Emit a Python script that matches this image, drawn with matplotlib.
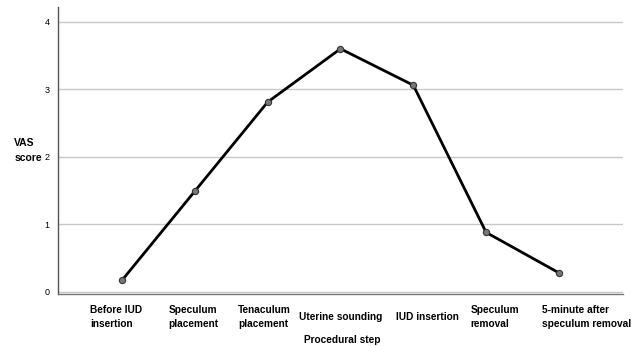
import matplotlib
matplotlib.use("Agg")
import matplotlib.pyplot as plt
import matplotlib.transforms as mtransforms

plt.rcParams["font.family"] = ["Liberation Sans", "DejaVu Sans"]

# Data
steps = ["Before IUD\ninsertion", "Speculum\nplacement", "Tenaculum\nplacement",
         "Uterine sounding", "IUD insertion", "Speculum\nremoval",
         "5-minute after\nspeculum removal"]
vas_score = [0.17, 1.49, 2.81, 3.60, 3.06, 0.88, 0.28]
y_ticks = [0, 1, 2, 3, 4]

# horizontal nudges of the tick labels (pixels), as laid out in the original
label_shift_px = [-6, -1, -3, 0, 14, 9, 28]

fig = plt.figure(figsize=(6.43, 3.46), dpi=100)
ax = fig.add_axes([0.090, 0.150, 0.879, 0.830])

x = list(range(len(steps)))
ax.plot(x, vas_score, color="black", linewidth=2.0, zorder=3,
        marker="o", markersize=4.5, markerfacecolor="#777777",
        markeredgecolor="#333333", markeredgewidth=0.8)

ax.set_xlim(-0.88, 6.88)
ax.set_ylim(-0.034, 4.22)
ax.set_yticks(y_ticks)
ax.set_yticklabels([str(t) for t in y_ticks], fontsize=6.5)
ax.yaxis.grid(True, color="#c8c8c8", linewidth=1.0)
ax.set_axisbelow(True)

ax.set_xticks(x)
ax.set_xticklabels(steps, fontsize=7.3, fontweight="bold", multialignment="left",
                   va="center", linespacing=1.45)
ax.tick_params(axis="x", length=0, pad=16.5)
ax.tick_params(axis="y", length=0, pad=6)
for lbl, dx in zip(ax.get_xticklabels(), label_shift_px):
    lbl.set_transform(lbl.get_transform() +
                      mtransforms.ScaledTranslation(dx / 100, 0, fig.dpi_scale_trans))

for s in ["top", "right"]:
    ax.spines[s].set_visible(False)
ax.spines["left"].set_color("#555555")
ax.spines["bottom"].set_color("#777777")
ax.spines["left"].set_linewidth(1.0)
ax.spines["bottom"].set_linewidth(1.0)

fig.text(0.532, 0.017, "Procedural step", fontsize=7.3, fontweight="bold",
         ha="center", va="center")
fig.text(0.022, 0.566, "VAS\nscore", fontsize=7.5, fontweight="bold",
         ha="left", va="center", multialignment="left", linespacing=1.6)

fig.savefig("out.png", dpi=100)
